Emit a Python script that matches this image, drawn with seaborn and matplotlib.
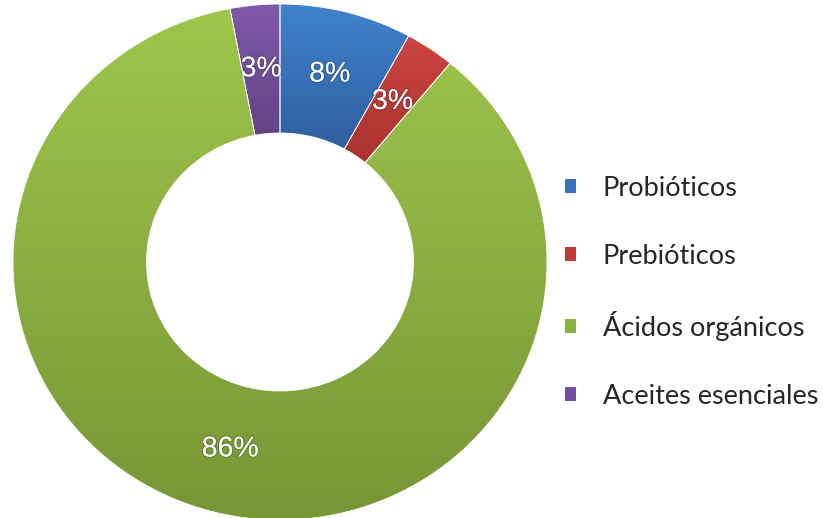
import numpy as np
import matplotlib
matplotlib.use("Agg")
import matplotlib.pyplot as plt
import matplotlib.patheffects as pe
from matplotlib.colors import LinearSegmentedColormap
from matplotlib.patches import Patch
import seaborn as sns

# Share of each additive type (percent)
categories = ["Probióticos", "Prebióticos", "Ácidos orgánicos", "Aceites esenciales"]
shares = [8, 3, 86, 3]

# Fill colours: lighter at the top of each segment, darker at the bottom
top_colors = ["#4082cd", "#cc4440", "#9ec64c", "#7e59a9"]
bottom_colors = ["#2f5f9f", "#a9332f", "#779636", "#634485"]
legend_colors = ["#3a72b8", "#bd3c38", "#8cb143", "#7150a0"]

sns.set_theme(style="white")
plt.rcParams["font.family"] = ["Liberation Sans", "DejaVu Sans"]

W, H = 823, 518
fig = plt.figure(figsize=(W / 100, H / 100), dpi=100)
fig.patch.set_facecolor("white")

# Donut area (slightly wider than tall)
cx, cy, rx, ry = 280, 262, 267, 258
ax = fig.add_axes([(cx - rx) / W, (H - cy - ry) / H, 2 * rx / W, 2 * ry / H])

wedges, texts, autotexts = ax.pie(
    shares,
    startangle=90,
    counterclock=False,
    radius=1,
    colors=top_colors,
    autopct=lambda p: f"{p:.0f}%",
    pctdistance=0.75,
    wedgeprops=dict(width=0.5, edgecolor="white", linewidth=0.6),
    textprops=dict(color="white", fontsize=20.5),
)

# Vertical gradient inside each segment
grad = np.linspace(0, 1, 256).reshape(-1, 1)
for w, c_top, c_bot in zip(wedges, top_colors, bottom_colors):
    ext = w.get_path().get_extents()
    cmap = LinearSegmentedColormap.from_list("seg", [c_bot, c_top])
    im = ax.imshow(grad, extent=[ext.x0, ext.x1, ext.y0, ext.y1], origin="lower",
                   cmap=cmap, aspect="auto", interpolation="bilinear", zorder=0.5)
    im.set_clip_path(w)
    w.set_facecolor("none")

for t in autotexts:
    t.set_zorder(3)
    t.set_path_effects([pe.withStroke(linewidth=1.6, foreground=(0, 0, 0, 0.18))])

ax.set_aspect("auto")
ax.set_xlim(-1, 1)
ax.set_ylim(-1, 1)
ax.axis("off")

handles = [Patch(facecolor=c, edgecolor="none") for c in legend_colors]
fig.legend(
    handles, categories,
    loc="upper left",
    bbox_to_anchor=(565 / W, 1 - 176 / H),
    frameon=False,
    prop=dict(family=["Lato", "DejaVu Sans"], size=19.5),
    handlelength=0.42, handleheight=0.42,
    handletextpad=0.98,
    labelspacing=1.57,
    borderpad=0, borderaxespad=0,
)

fig.savefig("out.png", dpi=100, facecolor="white")
